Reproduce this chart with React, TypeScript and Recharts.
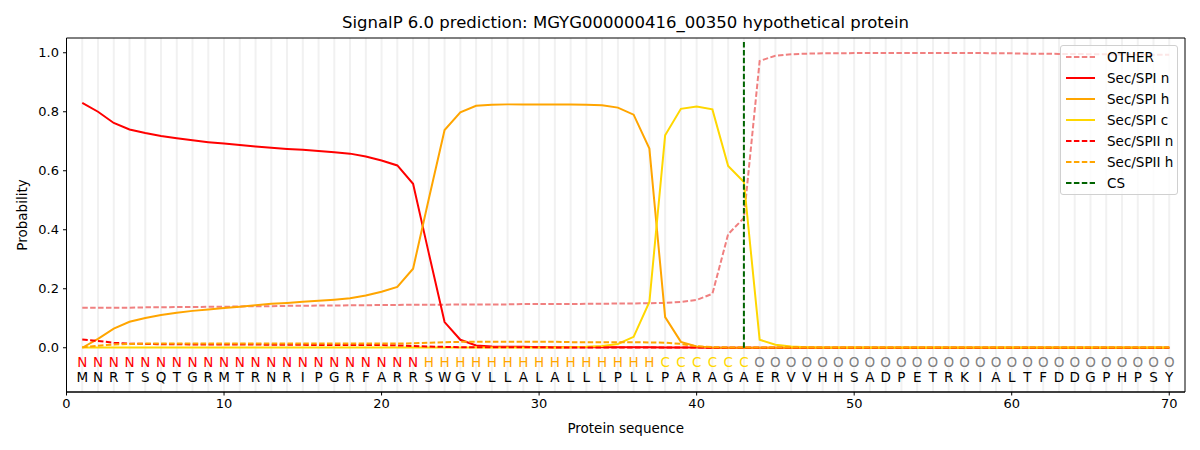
import React from 'react';
import {
  ComposedChart,
  Line,
  XAxis,
  YAxis,
  CartesianGrid,
  ReferenceLine,
  ReferenceArea,
} from 'recharts';

const TITLE = 'SignalP 6.0 prediction: MGYG000000416_00350 hypothetical protein';

const SEQUENCE = 'MNRTSQTGRMTRNRIPGRFARRSWGVLLALALLLPLLPARAGAERVVHHSADPETRKIALTFDDGPHPSY'.split('');
const REGIONS = 'NNNNNNNNNNNNNNNNNNNNNNHHHHHHHHHHHHHHHCCCCCCOOOOOOOOOOOOOOOOOOOOOOOOOOO'.split('');

const OTHER = [
  0.136, 0.136, 0.136, 0.136, 0.137, 0.137, 0.138, 0.138, 0.139, 0.139,
  0.14, 0.141, 0.141, 0.142, 0.142, 0.143, 0.143, 0.144, 0.144, 0.145,
  0.145, 0.146, 0.146, 0.146, 0.147, 0.147, 0.147, 0.147, 0.148, 0.148,
  0.148, 0.148, 0.149, 0.149, 0.15, 0.15, 0.151, 0.152, 0.155, 0.162,
  0.183, 0.385, 0.44, 0.972, 0.99, 0.995, 0.997, 0.998, 0.998, 0.999,
  0.999, 0.999, 0.999, 0.999, 0.999, 0.999, 0.999, 0.999, 0.998, 0.998,
  0.997, 0.997, 0.996, 0.996, 0.995, 0.995, 0.994, 0.994, 0.993, 0.993,
];

const SPI_N = [
  0.83, 0.8, 0.762, 0.74, 0.728, 0.718, 0.71, 0.703, 0.697, 0.692,
  0.687, 0.682, 0.678, 0.674, 0.671, 0.667, 0.663, 0.658, 0.648, 0.635,
  0.618, 0.556, 0.32, 0.087, 0.027, 0.008, 0.004, 0.003, 0.003, 0.002,
  0.002, 0.002, 0.002, 0.002, 0.002, 0.002, 0.002, 0.001, 0.001, 0.001,
  0, 0, 0, 0, 0, 0, 0, 0, 0, 0,
  0, 0, 0, 0, 0, 0, 0, 0, 0, 0,
  0, 0, 0, 0, 0, 0, 0, 0, 0, 0,
];

const SPI_H = [
  0, 0.03, 0.065, 0.088, 0.101, 0.111, 0.119, 0.125, 0.13, 0.135,
  0.139, 0.144, 0.149, 0.152, 0.156, 0.159, 0.163, 0.168, 0.177, 0.19,
  0.206, 0.268, 0.505, 0.738, 0.798, 0.82, 0.824, 0.825, 0.825, 0.825,
  0.825, 0.825, 0.824, 0.822, 0.814, 0.79, 0.675, 0.104, 0.02, 0.004,
  0.001, 0, 0, 0, 0, 0, 0, 0, 0, 0,
  0, 0, 0, 0, 0, 0, 0, 0, 0, 0,
  0, 0, 0, 0, 0, 0, 0, 0, 0, 0,
];

const SPI_C = [
  0.001, 0.001, 0.001, 0.001, 0.001, 0.001, 0.001, 0.001, 0.001, 0.001,
  0.001, 0.001, 0.001, 0.001, 0.001, 0.001, 0.001, 0.001, 0.001, 0.001,
  0.001, 0.001, 0.001, 0.001, 0.001, 0.001, 0.001, 0.001, 0.001, 0.001,
  0.001, 0.002, 0.003, 0.006, 0.013, 0.037, 0.155, 0.72, 0.81, 0.818,
  0.808, 0.616, 0.562, 0.027, 0.01, 0.004, 0.002, 0.001, 0.001, 0.001,
  0.001, 0.001, 0.001, 0.001, 0.001, 0.001, 0.001, 0.001, 0.001, 0.001,
  0.001, 0.001, 0.001, 0.001, 0.001, 0.001, 0.001, 0.001, 0.001, 0.001,
];

const SPII_N = [
  0.028, 0.023, 0.017, 0.014, 0.013, 0.012, 0.012, 0.011, 0.011, 0.011,
  0.011, 0.011, 0.01, 0.01, 0.01, 0.009, 0.009, 0.009, 0.009, 0.009,
  0.008, 0.006, 0.004, 0.003, 0.002, 0.002, 0.002, 0.002, 0.002, 0.002,
  0.001, 0.001, 0.001, 0.001, 0.001, 0.001, 0.001, 0.001, 0.001, 0.001,
  0, 0, 0, 0, 0, 0, 0, 0, 0, 0,
  0, 0, 0, 0, 0, 0, 0, 0, 0, 0,
  0, 0, 0, 0, 0, 0, 0, 0, 0, 0,
];

const SPII_H = [
  0.002, 0.007, 0.011, 0.013, 0.014, 0.014, 0.014, 0.014, 0.014, 0.014,
  0.014, 0.014, 0.014, 0.014, 0.014, 0.014, 0.014, 0.014, 0.014, 0.014,
  0.014, 0.015, 0.017, 0.019, 0.02, 0.02, 0.02, 0.02, 0.02, 0.02,
  0.02, 0.019, 0.019, 0.019, 0.019, 0.019, 0.018, 0.017, 0.013, 0.005,
  0.002, 0.001, 0.001, 0.001, 0.001, 0.001, 0.001, 0.001, 0.001, 0.001,
  0.001, 0.001, 0.001, 0.001, 0.001, 0.001, 0.001, 0.001, 0.001, 0.001,
  0.001, 0.001, 0.001, 0.001, 0.001, 0.001, 0.001, 0.001, 0.001, 0.001,
];

const CS_POS = 43;
const CS_TOP = 1.04;

const X_TICKS = [0, 10, 20, 30, 40, 50, 60, 70];
const Y_TICKS = [0, 0.2, 0.4, 0.6, 0.8, 1.0];
const REGION_ROW = -0.05;
const SEQ_ROW = -0.1;

const REGION_COLORS: Record<string, string> = {
  N: '#ff0000',
  H: '#ffa500',
  C: '#ffd700',
  O: '#808080',
};

const DASH = '5.5 2.4';

const series = [
  { key: 'other', name: 'OTHER', color: '#f08080', dash: DASH },
  { key: 'spiN', name: 'Sec/SPI n', color: '#ff0000', dash: undefined },
  { key: 'spiH', name: 'Sec/SPI h', color: '#ffa500', dash: undefined },
  { key: 'spiC', name: 'Sec/SPI c', color: '#ffd700', dash: undefined },
  { key: 'spiiN', name: 'Sec/SPII n', color: '#ff0000', dash: DASH },
  { key: 'spiiH', name: 'Sec/SPII h', color: '#ffa500', dash: DASH },
];

const rows = SEQUENCE.map((aa, i) => ({
  pos: i + 1,
  aa,
  region: REGIONS[i],
  regionRow: REGION_ROW,
  seqRow: SEQ_ROW,
  other: OTHER[i],
  spiN: SPI_N[i],
  spiH: SPI_H[i],
  spiC: SPI_C[i],
  spiiN: SPII_N[i],
  spiiH: SPII_H[i],
}));

const positions = rows.map((r) => r.pos);

const FONT = '"DejaVu Sans", sans-serif';

const gridGenerator = (props: any) => {
  const { xAxis, offset } = props;
  if (xAxis && typeof xAxis.scale === 'function') {
    return positions.map((p) => xAxis.scale(p));
  }
  return positions.map((p) => offset.left + (p / 71) * offset.width);
};

const regionDot = (p: any) => (
  <text
    key={`r${p.index}`}
    x={p.cx}
    y={p.cy}
    dy="0.36em"
    textAnchor="middle"
    fontSize={13.5}
    fontFamily={FONT}
    fill={REGION_COLORS[p.payload.region]}
  >
    {p.payload.region}
  </text>
);

const seqDot = (p: any) => (
  <text
    key={`s${p.index}`}
    x={p.cx}
    y={p.cy}
    dy="0.36em"
    textAnchor="middle"
    fontSize={13.5}
    fontFamily={FONT}
    fill="#000"
  >
    {p.payload.aa}
  </text>
);

const legendItems = [
  ...series.map((s) => ({ name: s.name, color: s.color, dash: s.dash })),
  { name: 'CS', color: '#006400', dash: DASH },
];

export default function App() {
  return (
    <div
      style={{
        position: 'absolute',
        left: 0,
        top: 0,
        width: 1200,
        height: 450,
        background: '#fff',
        fontFamily: FONT,
      }}
    >
      <div
        style={{
          position: 'absolute',
          left: 66,
          width: 1119,
          top: 13,
          height: 20,
          lineHeight: '20px',
          textAlign: 'center',
          fontSize: 16.5,
          color: '#000',
        }}
      >
        {TITLE}
      </div>
      <ComposedChart
        width={1200}
        height={450}
        data={rows}
        margin={{ top: 38, right: 15, bottom: 0, left: 0 }}
      >
        <CartesianGrid
          horizontal={false}
          vertical
          stroke="#f1f1f1"
          strokeWidth={2}
          verticalCoordinatesGenerator={gridGenerator}
        />
        <XAxis
          dataKey="pos"
          type="number"
          domain={[0, 71]}
          allowDataOverflow
          ticks={X_TICKS}
          height={58}
          tickSize={3.5}
          tickMargin={3}
          stroke="#000"
          tick={{ fill: '#000', fontSize: 13, fontFamily: FONT }}
          label={{
            value: 'Protein sequence',
            position: 'insideBottom',
            offset: 17,
            fill: '#000',
            fontSize: 13.5,
            fontFamily: FONT,
          }}
        />
        <YAxis
          type="number"
          domain={[-0.15, 1.05]}
          allowDataOverflow
          ticks={Y_TICKS}
          width={66.5}
          tickSize={3.5}
          tickMargin={4}
          stroke="#000"
          tickFormatter={(v: number) => v.toFixed(1)}
          tick={{ fill: '#000', fontSize: 13, fontFamily: FONT }}
          label={{
            value: 'Probability',
            angle: -90,
            position: 'insideLeft',
            offset: 22,
            fill: '#000',
            fontSize: 13.5,
            fontFamily: FONT,
            style: { textAnchor: 'middle' },
          }}
        />
        <ReferenceArea
          x1={0}
          x2={71}
          y1={-0.15}
          y2={1.05}
          fill="none"
          fillOpacity={0}
          stroke="#000"
          strokeWidth={1}
          ifOverflow="visible"
        />
        {series.map((s) => (
          <Line
            key={s.key}
            dataKey={s.key}
            name={s.name}
            type="linear"
            stroke={s.color}
            strokeWidth={2}
            strokeDasharray={s.dash}
            dot={false}
            activeDot={false}
            isAnimationActive={false}
          />
        ))}
        <ReferenceLine
          segment={[
            { x: CS_POS, y: 0 },
            { x: CS_POS, y: CS_TOP },
          ]}
          stroke="#006400"
          strokeWidth={2}
          strokeDasharray={DASH}
        />
        <Line
          dataKey="regionRow"
          stroke="none"
          strokeWidth={0}
          dot={regionDot}
          activeDot={false}
          legendType="none"
          isAnimationActive={false}
        />
        <Line
          dataKey="seqRow"
          stroke="none"
          strokeWidth={0}
          dot={seqDot}
          activeDot={false}
          legendType="none"
          isAnimationActive={false}
        />
      </ComposedChart>
      <div
        style={{
          position: 'absolute',
          left: 1060,
          top: 45,
          width: 118,
          height: 150,
          border: '1px solid #d0d0d0',
          borderRadius: 3,
          background: 'rgba(255,255,255,0.8)',
          boxSizing: 'border-box',
          paddingTop: 1,
        }}
      >
        {legendItems.map((it) => (
          <div
            key={it.name}
            style={{ display: 'flex', alignItems: 'center', height: 20.9, fontSize: 13.5, color: '#000' }}
          >
            <svg width={46} height={10} style={{ flex: 'none' }}>
              <line
                x1={5}
                x2={34}
                y1={5}
                y2={5}
                stroke={it.color}
                strokeWidth={2}
                strokeDasharray={it.dash}
              />
            </svg>
            <span style={{ whiteSpace: 'nowrap' }}>{it.name}</span>
          </div>
        ))}
      </div>
    </div>
  );
}
